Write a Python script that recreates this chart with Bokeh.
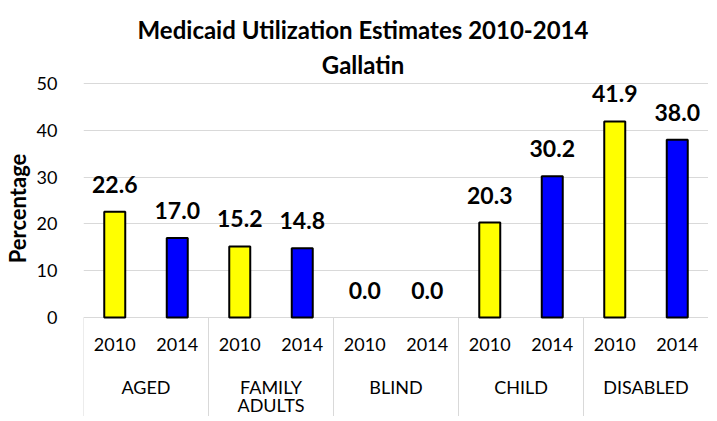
from bokeh.plotting import figure
from bokeh.models import ColumnDataSource, FixedTicker, LabelSet, Range1d
from bokeh.core.properties import value
from bokeh.embed import file_html
from bokeh.resources import INLINE

title_lines = ["Medicaid Utilization Estimates 2010-2014", "Gallatin"]
groups = ["AGED", "FAMILY ADULTS", "BLIND", "CHILD", "DISABLED"]
years = ["2010", "2014"]
vals_2010 = [22.6, 15.2, 0.0, 20.3, 41.9]
vals_2014 = [17.0, 14.8, 0.0, 30.2, 38.0]
y_ticks = [0, 10, 20, 30, 40, 50]
colors = {"2010": "#FFFF00", "2014": "#0000FF"}

FONT = "Lato"
YMIN, YMAX = -21.15, 67.74   # frame also holds the category strip and title area

p = figure(width=708, height=416, output_backend="svg", toolbar_location=None,
           x_range=Range1d(0, len(groups)), y_range=Range1d(YMIN, YMAX),
           min_border_left=82, min_border_right=0, min_border_top=0, min_border_bottom=0)
p.title = None
p.outline_line_color = None
p.background_fill_color = "white"
p.xaxis.visible = False

# title (two lines)
p.text(x=[2.236, 2.236], y=[61.54, 54.06], text=title_lines, text_align="center",
       text_baseline="alphabetic", text_font=value(FONT), text_font_size="24px",
       text_font_style="bold", text_color="black")

# bars
offs = {"2010": 0.25, "2014": 0.75}
xs, tops, cols, labels, yl, lc = [], [], [], [], [], []
for i, g in enumerate(groups):
    for y, v in zip(years, (vals_2010[i], vals_2014[i])):
        xs.append(i + offs[y])
        tops.append(v)
        cols.append(colors[y])
        labels.append(f"{v:.1f}")
        yl.append(y)
        lc.append("black" if v > 0 else None)
src = ColumnDataSource(dict(x=xs, top=tops, color=cols, label=labels, year=yl, lc=lc))

p.ygrid.ticker = FixedTicker(ticks=y_ticks)
p.ygrid.grid_line_color = "#d9d9d9"
p.ygrid.grid_line_width = 1
p.xgrid.grid_line_color = None

# category strip separators
seps = list(range(len(groups) + 1))
p.segment(x0=seps, y0=[0] * len(seps), x1=seps, y1=[YMIN] * len(seps),
          line_color="#d9d9d9", line_width=1)

p.vbar(x="x", top="top", width=0.168, bottom=0, fill_color="color",
       line_color="lc", line_width=2, source=src)
p.add_layout(LabelSet(x="x", y="top", text="label", source=src, text_align="center",
                      text_baseline="alphabetic", y_offset=19, text_font=value(FONT),
                      text_font_size="23px", text_font_style="bold", text_color="black"))

# y axis
p.yaxis.ticker = FixedTicker(ticks=y_ticks)
p.yaxis.axis_line_color = None
p.yaxis.major_tick_line_color = None
p.yaxis.minor_tick_line_color = None
p.yaxis.major_label_text_font = FONT
p.yaxis.major_label_text_font_size = "18px"
p.yaxis.major_label_text_color = "black"
p.yaxis.major_label_standoff = 20
p.yaxis.axis_label = "Percentage"
p.yaxis.axis_label_text_font = FONT
p.yaxis.axis_label_text_font_size = "22px"
p.yaxis.axis_label_text_font_style = "bold"
p.yaxis.axis_label_text_color = "black"
p.yaxis.axis_label_standoff = 3

# category labels
p.text(x="x", y=-5.77, text="year", source=src, text_align="center",
       text_baseline="middle", text_font=value(FONT), text_font_size="18px",
       text_color="black")
gx, gy, gt = [], [], []
for i, g in enumerate(groups):
    for j, ln in enumerate(g.split(" ")):
        gx.append(i + 0.5)
        gy.append(-14.74 - j * 4.0)
        gt.append(ln)
p.text(x=gx, y=gy, text=gt, text_align="center", text_baseline="middle",
       text_font=value(FONT), text_font_size="18px", text_color="black")

open("out.html", "w").write(file_html(p, INLINE))
